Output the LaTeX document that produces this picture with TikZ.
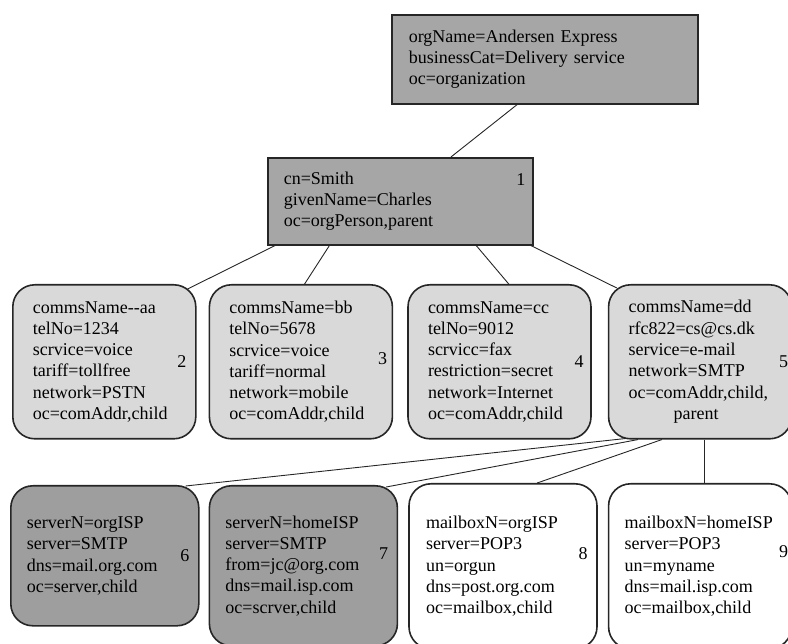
\documentclass[tikz,border=0pt]{standalone}
\usepackage{fontspec}
\setmainfont{Liberation Serif}
\usetikzlibrary{positioning,calc}

\begin{document}
\begin{tikzpicture}[x=1pt, y=-1pt,
    dirbox/.style={draw=black!85, line width=1.6pt, align=left, inner ysep=0pt,
      font=\fontsize{18}{21.3}\selectfont},
    orgbox/.style={dirbox, fill=black!35},
    commbox/.style={dirbox, fill=black!15, rounded corners=22pt, minimum width=183pt,
      text width=143pt, inner xsep=20pt, minimum height=154pt},
    srvbox/.style={dirbox, fill=black!38, rounded corners=22pt, text width=156pt, inner xsep=16pt},
    mailbox/.style={dirbox, fill=white, rounded corners=22pt, inner xsep=16pt},
    numlabel/.style={inner sep=0pt, font=\fontsize{18}{21.3}\selectfont},
    treeline/.style={line width=0.9pt, black!85}]
  \useasboundingbox (0,0) rectangle (788,644);

  % organization and person entries
  \node [orgbox, anchor=north west, text width=272pt, inner xsep=17pt, minimum height=89pt] (org) at (391,14)
    {orgName=Andersen Express\\ businessCat=Delivery service\\ oc=organization};
  \node [orgbox, anchor=north west, text width=233pt, inner xsep=16pt, minimum height=87pt] (person) at (267,157)
    {cn=Smith\\ givenName=Charles\\ oc=orgPerson,parent};
  \node [numlabel, below left=16pt and 8pt of person.north east] (num_1) {1};

  % communication addresses (children of person)
  \node [commbox, anchor=north west] (comm_aa) at (12,284)
    {commsName-{}-aa\\ telNo=1234\\ scrvice=voice\\ tariff=tollfree\\ network=PSTN\\ oc=comAddr,child};
  \node [commbox, right=12pt of comm_aa] (comm_bb)
    {commsName=bb\\ telNo=5678\\ scrvice=voice\\ tariff=normal\\ network=mobile\\ oc=comAddr,child};
  \node [commbox, right=14pt of comm_bb] (comm_cc)
    {commsName=cc\\ telNo=9012\\ scrvicc=fax\\ restriction=secret\\ network=Internet\\ oc=comAddr,child};
  \node [commbox, right=16pt of comm_cc] (comm_dd)
    {commsName=dd\\ rfc822=cs@cs.dk\\ service=e-mail\\ network=SMTP\\ oc=comAddr,child,\\ \hspace*{45pt}parent};
  \node [numlabel, left=10pt of comm_aa.east] (num_2) {2};
  \node [numlabel, left=6pt of comm_bb.east, yshift=3pt] (num_3) {3};
  \node [numlabel, left=8pt of comm_cc.east] (num_4) {4};
  \node [numlabel, left=4pt of comm_dd.east] (num_5) {5};

  % servers and mailboxes (children of comm_dd)
  \node [srvbox, anchor=north west, minimum height=140pt] (srv_org) at (10,485)
    {serverN=orgISP\\ server=SMTP\\ dns=mail.org.com\\ oc=server,child};
  \node [srvbox, right=9pt of srv_org.north east, anchor=north west, minimum height=160pt] (srv_home)
    {serverN=homeISP\\ server=SMTP\\ from=jc@org.com\\ dns=mail.isp.com\\ oc=scrver,child};
  \node [mailbox, right=10pt of srv_home.north east, anchor=north west, yshift=2pt,
    text width=154pt, inner xsep=17pt, minimum height=165pt] (mbox_org)
    {mailboxN=orgISP\\ server=POP3\\ un=orgun\\ dns=post.org.com\\ oc=mailbox,child};
  \node [mailbox, right=10pt of mbox_org.north east, anchor=north west,
    text width=151pt, minimum height=165pt] (mbox_home)
    {mailboxN=homeISP\\ server=POP3\\ un=myname\\ dns=mail.isp.com\\ oc=mailbox,child};
  \node [numlabel, left=10pt of srv_org.east] (num_6) {6};
  \node [numlabel, left=10pt of srv_home.east, yshift=12pt] (num_7) {7};
  \node [numlabel, left=10pt of mbox_org.east, yshift=13pt] (num_8) {8};
  \node [numlabel, left=4pt of mbox_home.east, yshift=15pt] (num_9) {9};

  % org -> person
  \draw [treeline] ($(org.south west)!0.41!(org.south east)$) -- ($(person.north west)!0.69!(person.north east)$);

  % person -> comms entries
  \draw [treeline] ($(person.south west)!0.03!(person.south east)$) -- ($(comm_aa.north east)+(-9,5)$);
  \draw [treeline] ($(person.south west)!0.234!(person.south east)$) -- ($(comm_bb.north west)!0.52!(comm_bb.north east)$);
  \draw [treeline] ($(person.south west)!0.785!(person.south east)$) -- ($(comm_cc.north west)!0.55!(comm_cc.north east)$);
  \draw [treeline] ($(person.south west)!0.99!(person.south east)$) -- ($(comm_dd.north west)+(9,4)$);

  % comm_dd -> servers and mailboxes
  \draw [treeline] ($(comm_dd.south west)+(17,-1)$) -- ($(srv_org.north east)+(-14,1)$);
  \draw [treeline] ($(comm_dd.south west)+(30,0)$) -- ($(srv_home.north east)+(-12,2)$);
  \draw [treeline] ($(comm_dd.south west)+(54,0)$) -- ($(mbox_org.north west)!0.68!(mbox_org.north east)$);
  \coordinate (mbox_home_top) at ($(mbox_home.north west)!0.525!(mbox_home.north east)$);
  \draw [treeline] (mbox_home_top |- comm_dd.south) -- (mbox_home_top);
\end{tikzpicture}
\end{document}
